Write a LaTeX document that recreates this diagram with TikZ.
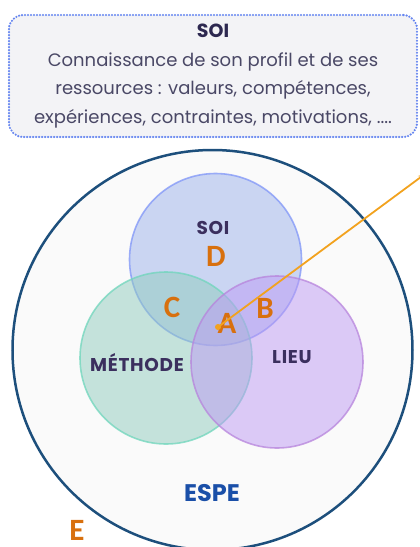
\documentclass[tikz,border=0pt]{standalone}
\usepackage{fontspec}
\setmainfont{Poppins}
\newfontfamily\letterfont{Carlito}
\usepackage{tikz}
\usetikzlibrary{arrows.meta,positioning}

\definecolor{boxfill}{HTML}{F3F3F6}
\definecolor{boxline}{HTML}{6585F0}
\definecolor{boxtext}{HTML}{4A4866}
\definecolor{titletext}{HTML}{2D2850}
\definecolor{espeline}{HTML}{1D4F7C}
\definecolor{espefill}{HTML}{FAFAFA}
\definecolor{espetext}{HTML}{1A4FA8}
\definecolor{soicol}{HTML}{9CB2EC}
\definecolor{methcol}{HTML}{90CCBE}
\definecolor{lieucol}{HTML}{BE9AF4}
\definecolor{soiline}{HTML}{7F95F8}
\definecolor{methline}{HTML}{6FD6BC}
\definecolor{lieuline}{HTML}{B784DC}
\definecolor{labeltext}{HTML}{3B2F5E}
\definecolor{lettercol}{HTML}{D8700E}
\definecolor{pointercol}{HTML}{F2A21E}

\begin{document}
\begin{tikzpicture}[x=1pt, y=-1pt,
    setcircle/.style = {circle, minimum size = 172pt, inner sep = 0pt,
      line width = 1.6pt, fill opacity = 0.5, draw opacity = 0.75},
    setlabel/.style = {font = \fontsize{18.5}{18.5}\selectfont\bfseries\addfontfeature{LetterSpace=4}, text = labeltext},
    letter/.style = {font = \letterfont\fontsize{31}{31}\selectfont\bfseries, text = lettercol, inner sep = 1pt},
    pointer/.style = {draw = pointercol, line width = 1.8pt, -{Stealth[length=7pt]}}]
    \useasboundingbox (0,0) rectangle (420,547);

    % top box
    \node[draw = boxline, fill = boxfill, rounded corners = 14pt,
      line width = 2.4pt, line cap = round, dash pattern = on 0pt off 3pt,
      minimum width = 408pt, minimum height = 122pt, align = center,
      text = boxtext, font = \fontsize{18}{28.5}\selectfont] (soibox) at (213,76)
      {{\color{titletext}\fontsize{19}{19}\selectfont\bfseries SOI}\\Connaissance de son profil et de ses\\
       ressources : valeurs, compétences,\\expériences, contraintes, motivations, ....};

    % the three sets inside the outer one
    \node[circle, draw = espeline, fill = espefill, line width = 2.5pt,
      minimum size = 400pt, inner sep = 0pt] (espe) at (212.5,350) {};
    \node[setcircle, fill = soicol, draw = soiline] (soi) at (215.5,259.5) {};
    \node[setcircle, fill = methcol, draw = methline] (methode) at (166,358) {};
    \node[setcircle, fill = lieucol, draw = lieuline] (lieu) at (277,362) {};

    \node[setlabel] (soilabel) at (213,228) {SOI};
    \node[setlabel] (methlabel) at (137,363) {MÉTHODE};
    \node[setlabel] (lieulabel) at (292,357) {LIEU};
    \node[font = \fontsize{24}{24}\selectfont\bfseries, text = espetext] (espelabel) at (212,493) {ESPE};

    \node[letter] (d) at (216,256) {D};
    \node[letter] (c) at (172,307) {C};
    \node[letter] (a) at (227,323) {A};
    \node[letter] (b) at (265,308) {B};
    \node[letter] (e) at (77,530) {E};

    \node[circle, fill = pointercol, inner sep = 0pt, minimum size = 6pt] (dota) at (218,327) {};
    \coordinate (far) at (425,174);
    \draw[pointer] (dota.center) -- (far);
  \end{tikzpicture}
\end{document}
